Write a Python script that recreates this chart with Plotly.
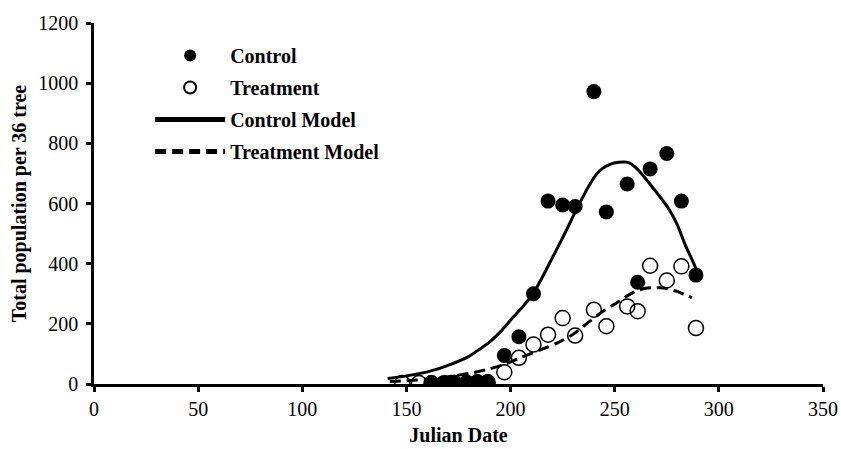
import plotly.graph_objects as go

# Observed data
control_dates = [162, 168, 173, 179, 184, 189, 197, 204, 211, 218, 225, 231, 240, 246, 256, 261, 267, 275, 282, 289]
control_values = [5, 4, 6, 5, 8, 8, 95, 157, 300, 608, 595, 590, 972, 572, 665, 338, 715, 766, 608, 362]

treatment_dates = [148, 156, 162, 168, 173, 179, 184, 189, 197, 204, 211, 218, 225, 231, 240, 246, 256, 261, 267, 275, 282, 289]
treatment_values = [3, 3, 2, 2, 3, 3, 5, 5, 39, 87, 131, 164, 219, 161, 247, 192, 258, 242, 393, 344, 391, 186]

# Fitted model curves
control_model_x = [141, 150, 161, 170, 180, 185, 190, 196, 201, 206, 211, 216, 222, 226, 230, 234, 238, 241, 244,
                   248, 252, 255, 257, 260, 264, 268, 272, 276, 280, 284, 288, 290]
control_model_y = [18, 27, 42, 62, 92, 115, 140, 180, 220, 258, 302, 365, 446, 500, 557, 612, 663, 695, 716,
                   731, 737, 738, 735, 720, 690, 655, 620, 582, 530, 460, 400, 365]

treatment_model_x = [142, 150, 160, 170, 180, 188, 197, 205, 213, 222, 230, 237, 244, 251, 256, 261, 265, 268,
                     272, 276, 280, 284, 287]
treatment_model_y = [8, 11, 16, 24, 35, 47, 65, 88, 110, 135, 165, 203, 240, 270, 293, 311, 318, 320,
                     320, 316, 308, 296, 287]

FONT = "Liberation Serif, Times New Roman, serif"

fig = go.Figure()
fig.add_trace(go.Scatter(x=control_dates, y=control_values, mode="markers", name="Control", legendgroup="a",
                         marker=dict(symbol="circle", size=15, color="black")))
fig.add_trace(go.Scatter(x=treatment_dates, y=treatment_values, mode="markers", name="Treatment", legendgroup="b",
                         marker=dict(symbol="circle-open", size=15, color="black", line=dict(width=1.5, color="black"))))
fig.add_trace(go.Scatter(x=control_model_x, y=control_model_y, mode="lines", name="Control Model", legendgroup="c",
                         line=dict(color="black", width=3, shape="spline", smoothing=0.6)))
fig.add_trace(go.Scatter(x=treatment_model_x, y=treatment_model_y, mode="lines", name="Treatment Model", legendgroup="d",
                         line=dict(color="black", width=3, dash="11px,6px", shape="spline", smoothing=0.6)))

fig.update_layout(
    width=841, height=449,
    margin=dict(l=93.5, r=18, t=23, b=64.5),
    paper_bgcolor="white", plot_bgcolor="white",
    font=dict(family=FONT, size=20, color="black"),
    showlegend=True,
    legend=dict(x=0.077, y=0.964, xanchor="left", yanchor="top", traceorder="grouped", tracegroupgap=3,
                bgcolor="rgba(0,0,0,0)", itemwidth=70, itemsizing="constant",
                font=dict(family=FONT, size=20, color="black", weight="bold")),
    xaxis=dict(range=[0, 350], dtick=50, tick0=0, showgrid=False, zeroline=False,
               showline=True, linecolor="black", linewidth=2.5, ticks="outside", ticklen=5, tickwidth=2.5,
               tickcolor="black", tickfont=dict(family=FONT, size=20),
               title=dict(text="Julian Date", font=dict(family=FONT, size=20, weight="bold"), standoff=10),
               automargin=False),
    yaxis=dict(range=[0, 1200], dtick=200, tick0=0, showgrid=False, zeroline=False,
               showline=True, linecolor="black", linewidth=2.5, ticks="outside", ticklen=5, tickwidth=2.5,
               tickcolor="black", tickfont=dict(family=FONT, size=20), ticklabelstandoff=4,
               title=dict(text="Total population per 36 tree", font=dict(family=FONT, size=20, weight="bold"), standoff=7),
               automargin=False),
)

fig.write_html(
    "out.html",
    config={"displayModeBar": False},
    post_script="document.body.style.margin='0px'; document.body.style.overflow='hidden';",
)
